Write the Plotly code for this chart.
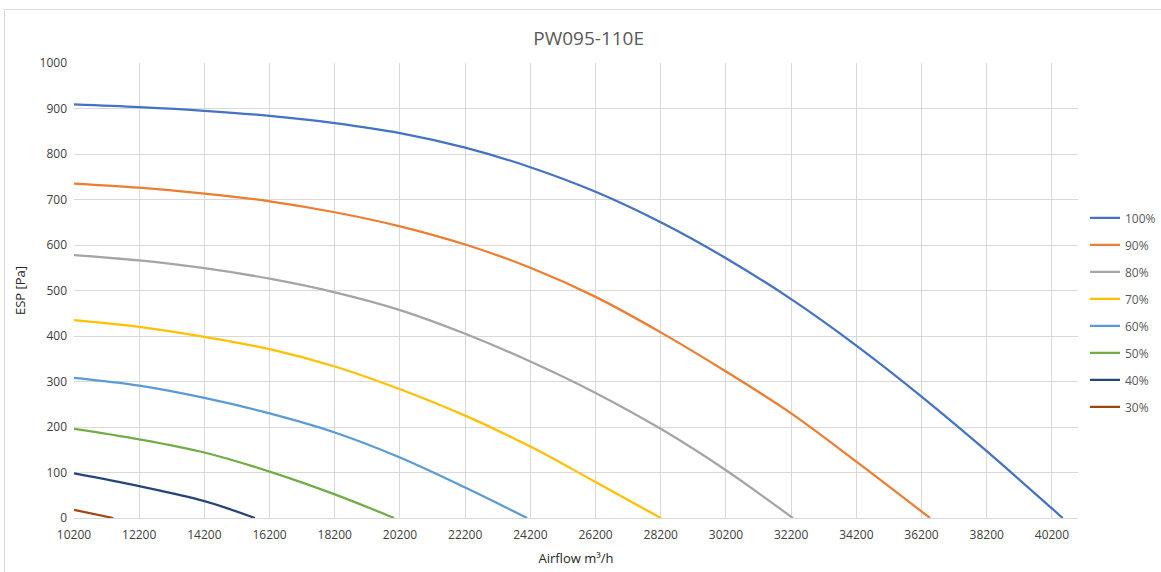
import plotly.graph_objects as go

# ---- data ----
series_names = ["100%", "90%", "80%", "70%", "60%", "50%", "40%", "30%"]
series_colors = ["#4472C4", "#ED7D31", "#A5A5A5", "#FFC000", "#5B9BD5", "#70AD47", "#264478", "#9E480E"]

x_100 = [10200, 12200, 14200, 16200, 18200, 20200, 22200, 24200, 26200, 28200, 30200, 32200, 34200, 36200, 38200, 40200, 40530]
y_100 = [909, 903, 895, 884, 868, 846, 814, 771, 717, 650, 571, 481, 379, 267, 147, 21, 0]

x_90 = [10200, 12200, 14200, 16200, 18200, 20200, 22200, 24200, 26200, 28200, 30200, 32200, 34200, 36460]
y_90 = [735, 726, 713, 696, 672, 641, 601, 550, 486, 408, 322, 230, 124, 0]

x_80 = [10200, 12200, 14200, 16200, 18200, 20200, 22200, 24200, 26200, 28200, 30200, 32250]
y_80 = [578, 566, 549, 526, 496, 457, 405, 344, 275, 196, 105, 0]

x_70 = [10200, 12200, 14200, 16200, 18200, 20200, 22200, 24200, 26200, 28200]
y_70 = [435, 420, 398, 371, 333, 283, 225, 157, 79, 0]

x_60 = [10200, 12200, 14200, 16200, 18200, 20200, 22200, 24100]
y_60 = [308, 291, 264, 230, 188, 133, 67, 0]

x_50 = [10200, 12200, 14200, 16200, 18200, 20020]
y_50 = [196, 173, 144, 102, 52, 0]

x_40 = [10200, 12200, 14200, 15750]
y_40 = [98, 70, 37, 0]

x_30 = [10200, 11405]
y_30 = [18, 0]

xs = [x_100, x_90, x_80, x_70, x_60, x_50, x_40, x_30]
ys = [y_100, y_90, y_80, y_70, y_60, y_50, y_40, y_30]

title_text = "PW095-110E"
x_title = "Airflow m³/h"
y_title = "ESP [Pa]"

FONT = "Open Sans"
GRID = "#D9D9D9"

fig = go.Figure()
for name, color, x, y in zip(series_names, series_colors, xs, ys):
    fig.add_trace(go.Scatter(
        x=x, y=y, name=name, mode="lines", legendgroup=name,
        line=dict(color=color, width=2.25, shape="spline", smoothing=1.0),
        hoverinfo="x+y+name",
    ))

W, H = 1161, 572
L, R, T, B = 74, 83, 63, 54
pw, ph = W - L - R, H - T - B

def px_x(p):
    return (p - L) / pw

def px_y(p):
    return (H - B - p) / ph

fig.update_layout(
    width=W, height=H,
    margin=dict(l=L, r=R, t=T, b=B, autoexpand=False),
    paper_bgcolor="white", plot_bgcolor="white",
    font=dict(family=FONT, size=12, color="#595959"),
    title=dict(text=title_text, x=0.507, xref="container", xanchor="center",
               y=1 - 38 / H, yref="container", yanchor="middle",
               font=dict(family=FONT, size=19, color="#595959")),
    xaxis=dict(
        range=[10200, 41000], tick0=10200, dtick=2000, tickformat="d",
        showgrid=True, gridcolor=GRID, gridwidth=1,
        showline=True, linecolor=GRID, linewidth=1,
        zeroline=False, ticks="", ticklabelstandoff=6,
        tickfont=dict(family=FONT, size=12, color="#404040"),
        title=dict(text=x_title, standoff=11, font=dict(family=FONT, size=13, color="#262626")),
    ),
    yaxis=dict(
        range=[0, 1000], tick0=0, dtick=100,
        showgrid=True, gridcolor=GRID, gridwidth=1,
        showline=False, zeroline=False, ticks="",
        ticklabelstandoff=6,
        tickfont=dict(family=FONT, size=12, color="#404040"),
        title=dict(text=y_title, standoff=10, font=dict(family=FONT, size=13, color="#262626")),
    ),
    legend=dict(
        x=1.0 + 7 / pw, xanchor="left", y=0.452, yanchor="middle",
        traceorder="grouped", tracegroupgap=8,
        font=dict(family=FONT, size=12, color="#595959"),
        bgcolor="rgba(0,0,0,0)", borderwidth=0,
    ),
    showlegend=True,
    shapes=[dict(type="rect", xref="paper", yref="paper",
                 x0=px_x(4.5), x1=px_x(W + 10), y0=px_y(H + 10), y1=px_y(9.5),
                 line=dict(color="#D9D9D9", width=1), fillcolor="rgba(0,0,0,0)", layer="below")],
)

fig.write_html("out.html", config={"displayModeBar": False},
               post_script="document.body.style.margin='0';document.body.style.overflow='hidden';")
